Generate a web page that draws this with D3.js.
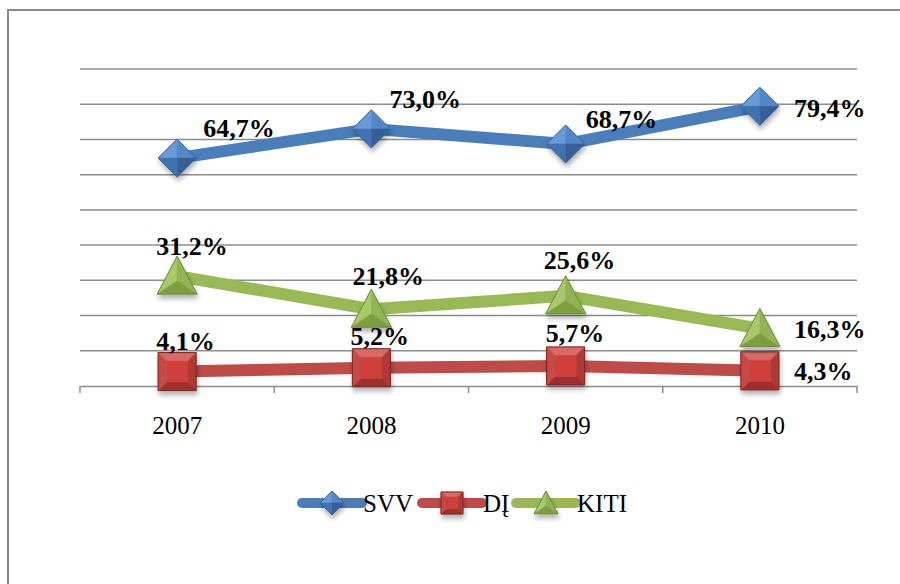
<!DOCTYPE html>
<html lang="lt">
<head>
    <meta charset="UTF-8">
    <title>SVV / DĮ / KITI</title>
    <script src="https://d3js.org/d3.v7.min.js"></script>
    <style>
        html, body {
            margin: 0;
            background: #fff;
        }
        svg text {
            font-family: "Liberation Serif", "Times New Roman", serif;
        }
    </style>
</head>
<body>
    <div id="vis"></div>

    <script>
        // data
        var years = ["2007", "2008", "2009", "2010"];
        var svvValues = [64.7, 73.0, 68.7, 79.4];
        var diValues = [4.1, 5.2, 5.7, 4.3];
        var kitiValues = [31.2, 21.8, 25.6, 16.3];
        var seriesNames = ["SVV", "DĮ", "KITI"];

        // label nudges (dx to text start, dy to baseline) - labels were moved by hand in the original
        var svvNudge = [[26, -21], [18, -21], [20, -16], [34, 11]];
        var diNudge = [[-21, -22], [-21, -23], [-20, -24], [34, 9]];
        var kitiNudge = [[-21, -21], [-19, -24], [-22, -27], [34, 9]];

        var serif = "'Liberation Serif', 'Times New Roman', serif";
        var width = 900, height = 584;

        var svg = d3.select("#vis")
            .append("svg")
                .attr("width", width)
                .attr("height", height);

        var defs = svg.append("defs");

        var shadow = defs.append("filter")
            .attr("id", "shadow")
            .attr("x", "-50%").attr("y", "-50%")
            .attr("width", "200%").attr("height", "200%");
        shadow.append("feDropShadow")
            .attr("dx", 1).attr("dy", 4)
            .attr("stdDeviation", 2.5)
            .attr("flood-color", "#000")
            .attr("flood-opacity", 0.3);

        // outer chart border (cropped at right and bottom)
        svg.append("rect")
            .attr("x", 8).attr("y", 10)
            .attr("width", 1000).attr("height", 1000)
            .attr("fill", "none")
            .attr("stroke", "#8a8a8a")
            .attr("stroke-width", 2);

        var x_scale = d3.scaleBand()
            .domain(years)
            .range([80, 857]);

        var y_scale = d3.scaleLinear()
            .domain([0, 90])
            .range([386, 69]);

        // gridlines
        svg.append("g")
            .selectAll("line")
            .data(y_scale.ticks(9).filter(function(d) { return d > 0; }))
            .enter().append("line")
                .attr("x1", 80).attr("x2", 857)
                .attr("y1", function(d) { return y_scale(d); })
                .attr("y2", function(d) { return y_scale(d); })
                .attr("stroke", "#8c8c8c")
                .attr("stroke-width", 1.5);

        // x axis
        var x_axis = d3.axisBottom(x_scale).tickSize(0).tickPadding(30);
        var xg = svg.append("g")
            .attr("transform", "translate(0," + y_scale(0) + ")")
            .call(x_axis)
            .attr("font-family", serif);
        xg.select(".domain")
            .attr("stroke", "#8c8c8c")
            .attr("stroke-width", 1.5);
        xg.selectAll("text")
            .attr("font-size", 25)
            .attr("fill", "#000");

        // ticks at the band edges
        var edges = years.map(function(y) { return x_scale(y); }).concat([x_scale.range()[1]]);
        xg.selectAll(".edge")
            .data(edges)
            .enter().append("line")
                .attr("class", "edge")
                .attr("x1", function(d) { return d; })
                .attr("x2", function(d) { return d; })
                .attr("y1", 0).attr("y2", 7)
                .attr("stroke", "#8c8c8c")
                .attr("stroke-width", 1.5);

        function cx(i) { return x_scale(years[i]) + x_scale.bandwidth() / 2; }

        // marker shapes as facets: [points, colour]
        function diamondFacets(s, c) {
            var h = s / 2;
            return [
                [[[0, 0], [-h, 0], [0, -h]], c[0]],
                [[[0, 0], [0, -h], [h, 0]], c[1]],
                [[[0, 0], [h, 0], [0, h]], c[3]],
                [[[0, 0], [0, h], [-h, 0]], c[2]]
            ];
        }
        function squareFacets(s, c) {
            var h = s / 2, k = h * 0.55;
            return [
                [[[-h, -h], [h, -h], [k, -k], [-k, -k]], c[0]],
                [[[h, -h], [h, h], [k, k], [k, -k]], c[2]],
                [[[h, h], [-h, h], [-k, k], [k, k]], c[3]],
                [[[-h, h], [-h, -h], [-k, -k], [-k, k]], c[1]],
                [[[-k, -k], [k, -k], [k, k], [-k, k]], c[4]]
            ];
        }
        function triangleFacets(s, c) {
            var w = s / 2, top = -s * 0.5, bot = s * 0.45, mid = s * 0.12;
            return [
                [[[0, top], [-w, bot], [0, mid]], c[0]],
                [[[0, top], [0, mid], [w, bot]], c[1]],
                [[[-w, bot], [w, bot], [0, mid]], c[2]]
            ];
        }
        function outline(type, size) {
            var h = size / 2;
            if (type === "diamond") return [[-h, 0], [0, -h], [h, 0], [0, h]];
            if (type === "square") return [[-h, -h], [h, -h], [h, h], [-h, h]];
            return [[0, -size * 0.5], [h, size * 0.45], [-h, size * 0.45]];
        }

        var series = [
            { name: seriesNames[0], values: svvValues, nudge: svvNudge, color: "#4a7ebb",
              type: "diamond", facets: diamondFacets, size: 38, legendSize: 24,
              shades: ["#6a9ad6", "#5288c8", "#3f72b0", "#345f96"], edge: "#35679f" },
            { name: seriesNames[1], values: diValues, nudge: diNudge, color: "#be4b48",
              type: "square", facets: squareFacets, size: 38, legendSize: 22,
              shades: ["#d86a66", "#c44a47", "#b03835", "#a02f2d", "#cf403c"], edge: "#7a2624" },
            { name: seriesNames[2], values: kitiValues, nudge: kitiNudge, color: "#98b954",
              type: "triangle", facets: triangleFacets, size: 40, legendSize: 24,
              shades: ["#a8c86a", "#92b452", "#7e9e40"], edge: "#6f8c3a" }
        ];

        var valueline = d3.line()
            .x(function(d, i) { return cx(i); })
            .y(function(d) { return y_scale(d); });

        function drawMarker(g, s, size) {
            var m = g.append("g").attr("filter", "url(#shadow)");
            s.facets(size, s.shades).forEach(function(f) {
                m.append("path")
                    .attr("d", "M" + f[0].join("L") + "Z")
                    .attr("fill", f[1])
                    .attr("stroke", f[1])
                    .attr("stroke-width", 0.5);
            });
            m.append("path")
                .attr("d", "M" + outline(s.type, size).join("L") + "Z")
                .attr("fill", "none")
                .attr("stroke", s.edge)
                .attr("stroke-width", 1);
        }

        // lines first
        series.forEach(function(s) {
            svg.append("path")
                .datum(s.values)
                .attr("fill", "none")
                .attr("stroke", s.color)
                .attr("stroke-width", 12)
                .attr("stroke-linejoin", "round")
                .attr("d", valueline);
        });

        // markers
        series.forEach(function(s) {
            s.values.forEach(function(v, i) {
                var g = svg.append("g")
                    .attr("transform", "translate(" + cx(i) + "," + y_scale(v) + ")");
                drawMarker(g, s, s.size);
            });
        });

        // data labels
        series.forEach(function(s) {
            svg.append("g")
                .attr("font-family", serif)
                .selectAll("text")
                .data(s.values)
                .enter().append("text")
                    .attr("x", function(d, i) { return cx(i) + s.nudge[i][0]; })
                    .attr("y", function(d, i) { return y_scale(d) + s.nudge[i][1]; })
                    .attr("font-size", 26)
                    .attr("font-weight", "bold")
                    .attr("fill", "#000")
                    .text(function(d) { return d.toFixed(1).replace(".", ",") + "%"; });
        });

        // legend
        var legendX = [302, 422, 516];
        var legend = svg.append("g")
            .attr("transform", "translate(0,503)")
            .attr("font-family", serif);
        series.forEach(function(s, i) {
            var g = legend.append("g").attr("transform", "translate(" + legendX[i] + ",0)");
            g.append("line")
                .attr("x1", 0).attr("x2", 60)
                .attr("stroke", s.color)
                .attr("stroke-width", 10)
                .attr("stroke-linecap", "round");
            var mg = g.append("g").attr("transform", "translate(30,0)");
            drawMarker(mg, s, s.legendSize);
            g.append("text")
                .attr("x", 61)
                .attr("y", 9)
                .attr("font-size", 25)
                .attr("fill", "#000")
                .text(s.name);
        });
    </script>
</body>
</html>
